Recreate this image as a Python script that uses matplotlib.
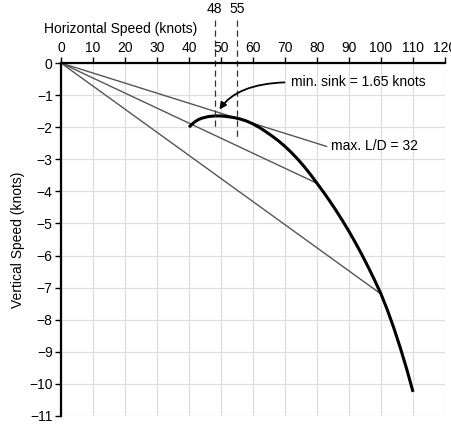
import matplotlib
matplotlib.use("Agg")
import matplotlib.pyplot as plt

plt.rcParams['font.family'] = ['Liberation Sans', 'DejaVu Sans']

# Sink polar curve (horizontal speed, vertical speed), knots
speed = [40, 41, 42, 43, 44, 46, 48, 50, 52, 54, 56, 58, 60, 62, 64, 66, 68, 70,
         72, 74, 76, 78, 80, 82, 84, 86, 88, 90, 92, 94, 96, 98, 100,
         102, 104, 106, 108, 110]
sink = [-2.0, -1.9, -1.82, -1.76, -1.72, -1.67, -1.65, -1.65, -1.67, -1.70, -1.745, -1.81,
        -1.9, -2.01, -2.14, -2.28, -2.43, -2.6,
        -2.79, -3.0, -3.23, -3.48, -3.75, -4.02, -4.305, -4.605, -4.92, -5.25,
        -5.6, -5.97, -6.36, -6.77, -7.2,
        -7.7, -8.26, -8.87, -9.53, -10.25]

# Lines from the origin (end points)
ray_x = [83, 80, 100]
ray_y = [-2.6, -3.75, -7.2]

min_sink_speed = 48
best_ld_speed = 55

fig = plt.figure(figsize=(4.52, 4.26), dpi=100)
ax = fig.add_axes([0.135, 0.0235, 0.8496, 0.8286])

ax.set_xlim(0, 120)
ax.set_ylim(-11, 0)
ax.set_xticks(range(0, 121, 10))
ax.set_yticks(range(-11, 1))
ax.grid(True, color='#dddddd', linewidth=0.9)
ax.set_axisbelow(True)

ax.xaxis.tick_top()
ax.tick_params(axis='both', labelsize=10, length=4, width=1, direction='out', pad=2)
for s in ['right', 'bottom']:
    ax.spines[s].set_visible(False)
for s in ['left', 'top']:
    ax.spines[s].set_linewidth(1.6)

# rays from origin
for x, y in zip(ray_x, ray_y):
    ax.plot([0, x], [0, y], color='#555555', linewidth=1)

# polar
ax.plot(speed, sink, color='black', linewidth=2.2, solid_capstyle='butt')

# dashed markers above the axis
ax.plot([min_sink_speed, min_sink_speed], [1.35, -2.05], color='#333333', linewidth=0.9,
        linestyle=(0, (5, 3)), clip_on=False)
ax.plot([best_ld_speed, best_ld_speed], [1.35, -2.3], color='#333333', linewidth=0.9,
        linestyle=(0, (5, 3)), clip_on=False)
ax.text(min_sink_speed, 1.45, str(min_sink_speed), ha='center', va='bottom', fontsize=10)
ax.text(best_ld_speed, 1.45, str(best_ld_speed), ha='center', va='bottom', fontsize=10)

ax.text(18.5, 1.05, 'Horizontal Speed (knots)', ha='center', va='center', fontsize=10)
ax.set_ylabel('Vertical Speed (knots)', fontsize=10, labelpad=3)

ax.annotate('min. sink = 1.65 knots', xy=(49.5, -1.45), xytext=(72, -0.6),
            fontsize=10, va='center', ha='left',
            arrowprops=dict(arrowstyle='-|>', color='black', linewidth=1.3,
                            connectionstyle='angle3,angleA=0,angleB=55', shrinkA=3, shrinkB=0,
                            relpos=(0, 0.5), mutation_scale=10))
ax.text(84.5, -2.6, 'max. L/D = 32', fontsize=10, va='center', ha='left')

fig.savefig('out.png', dpi=100)
